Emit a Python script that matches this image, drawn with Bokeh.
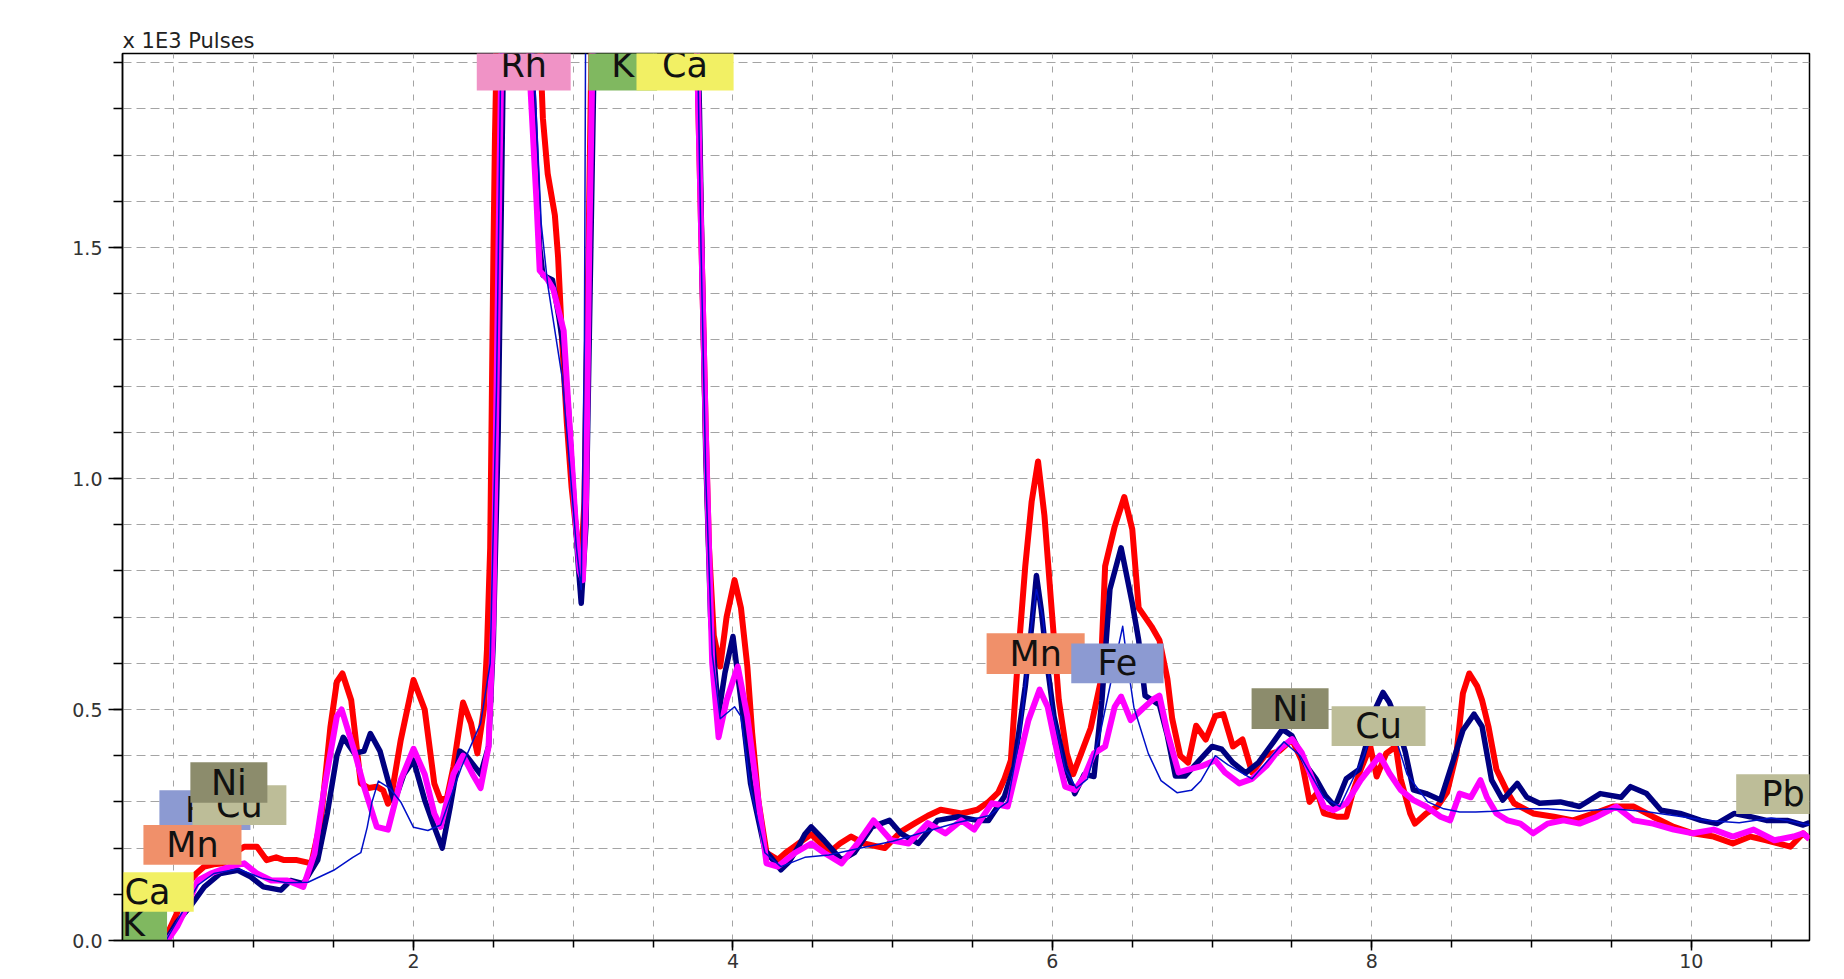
from bokeh.plotting import figure
from bokeh.models import FixedTicker, Range1d, ColumnDataSource, PrintfTickFormatter
from bokeh.core.properties import value
from bokeh.embed import file_html
from bokeh.resources import INLINE

# ---------------- data (energy in keV, intensity in 1E3 pulses) ----------------
red_x = [0.44, 0.52, 0.58, 0.64, 0.69, 0.75, 0.81, 0.88, 0.94, 1.02, 1.08, 1.14, 1.19, 1.27, 1.36,
         1.42, 1.48, 1.52, 1.555, 1.61, 1.67, 1.72, 1.77, 1.81, 1.84, 1.86, 1.92, 2.0, 2.07, 2.13,
         2.17, 2.21, 2.25, 2.31, 2.36, 2.40, 2.44, 2.46, 2.48, 2.49, 2.50, 2.51, 2.53, 2.65, 2.78,
         2.81, 2.84, 2.885, 2.905, 2.93, 2.96, 2.99, 3.03, 3.05, 3.07, 3.10, 3.13, 3.3, 3.6, 3.76,
         3.78, 3.81, 3.83, 3.85, 3.88, 3.92, 3.96, 4.01, 4.05, 4.09, 4.12, 4.16, 4.21, 4.28, 4.33,
         4.37, 4.43, 4.49, 4.55, 4.60, 4.67, 4.74, 4.82, 4.95, 5.05, 5.14, 5.22, 5.30, 5.43, 5.53,
         5.60, 5.66, 5.70, 5.74, 5.78, 5.83, 5.87, 5.91, 5.95, 5.99, 6.04, 6.09, 6.13, 6.18, 6.24,
         6.30, 6.33, 6.39, 6.45, 6.50, 6.54, 6.58, 6.62, 6.67, 6.72, 6.75, 6.80, 6.85, 6.90, 6.96,
         7.02, 7.07, 7.13, 7.19, 7.25, 7.33, 7.42, 7.50, 7.56, 7.61, 7.66, 7.70, 7.78, 7.84, 7.88,
         7.93, 7.99, 8.03, 8.09, 8.15, 8.18, 8.24, 8.27, 8.34, 8.41, 8.47, 8.53, 8.57, 8.61, 8.66,
         8.69, 8.73, 8.78, 8.85, 8.89, 9.01, 9.14, 9.26, 9.39, 9.51, 9.64, 9.76, 9.89, 10.01, 10.14,
         10.26, 10.37, 10.47, 10.62, 10.70, 10.74]
red_y = [0.0, 0.06, 0.12, 0.145, 0.16, 0.165, 0.167, 0.19, 0.203, 0.203, 0.174, 0.18, 0.174, 0.174, 0.167,
         0.26, 0.463, 0.56, 0.578, 0.52, 0.34, 0.33, 0.333, 0.325, 0.296, 0.31, 0.434, 0.564, 0.50, 0.34,
         0.303, 0.31, 0.376, 0.515, 0.47, 0.405, 0.50, 0.63, 0.85, 1.16, 1.48, 1.74, 2.1, 2.6, 2.05,
         1.78, 1.66, 1.57, 1.48, 1.30, 1.12, 0.98, 0.85, 0.82, 0.95, 1.6, 2.3, 3.5, 3.2, 2.2,
         1.85, 1.40, 1.10, 0.85, 0.66, 0.593, 0.70, 0.78, 0.72, 0.593, 0.45, 0.30, 0.19, 0.175, 0.19,
         0.20, 0.215, 0.23, 0.21, 0.19, 0.21, 0.225, 0.21, 0.20, 0.235, 0.254, 0.27, 0.283, 0.275, 0.283,
         0.30, 0.32, 0.35, 0.39, 0.59, 0.81, 0.95, 1.037, 0.92, 0.74, 0.52, 0.405, 0.36, 0.405, 0.46,
         0.557, 0.81, 0.896, 0.96, 0.89, 0.72, 0.70, 0.68, 0.65, 0.566, 0.48, 0.40, 0.385, 0.465, 0.435,
         0.486, 0.49, 0.42, 0.435, 0.364, 0.40, 0.41, 0.435, 0.39, 0.30, 0.32, 0.275, 0.268, 0.268, 0.32,
         0.37, 0.42, 0.355, 0.405, 0.42, 0.35, 0.275, 0.253, 0.275, 0.29, 0.32, 0.405, 0.535, 0.578, 0.55,
         0.52, 0.463, 0.37, 0.32, 0.297, 0.275, 0.268, 0.26, 0.275, 0.29, 0.29, 0.268, 0.246, 0.232, 0.225,
         0.21, 0.225, 0.217, 0.203, 0.232, 0.22]

navy_x = [0.45, 0.52, 0.60, 0.69, 0.79, 0.90, 0.98, 1.06, 1.17, 1.23, 1.31, 1.40, 1.46, 1.52, 1.56,
          1.63, 1.69, 1.73, 1.79, 1.84, 1.88, 1.94, 2.0, 2.07, 2.13, 2.18, 2.23, 2.29, 2.33, 2.42,
          2.47, 2.50, 2.53, 2.55, 2.57, 2.66, 2.73, 2.76, 2.79, 2.81, 2.87, 2.91, 2.94, 2.97, 3.00,
          3.03, 3.05, 3.08, 3.11, 3.14, 3.3, 3.6, 3.77, 3.79, 3.81, 3.83, 3.86, 3.91, 3.95, 4.0,
          4.05, 4.11, 4.20, 4.30, 4.35, 4.41, 4.45, 4.49, 4.57, 4.68, 4.76, 4.87, 4.98, 5.05, 5.16,
          5.28, 5.41, 5.53, 5.60, 5.70, 5.76, 5.83, 5.87, 5.90, 5.93, 5.97, 6.01, 6.08, 6.14, 6.20,
          6.26, 6.31, 6.36, 6.43, 6.50, 6.54, 6.58, 6.67, 6.72, 6.77, 6.83, 6.92, 7.00, 7.06, 7.13,
          7.21, 7.29, 7.38, 7.44, 7.50, 7.59, 7.65, 7.71, 7.77, 7.84, 7.92, 7.97, 8.02, 8.07, 8.11,
          8.15, 8.21, 8.26, 8.34, 8.43, 8.51, 8.57, 8.64, 8.69, 8.75, 8.82, 8.91, 8.97, 9.05, 9.18,
          9.30, 9.43, 9.56, 9.62, 9.72, 9.81, 9.93, 10.06, 10.16, 10.27, 10.37, 10.47, 10.60, 10.70, 10.74]
navy_y = [0.0, 0.04, 0.073, 0.116, 0.145, 0.152, 0.138, 0.116, 0.109, 0.13, 0.123, 0.174, 0.275, 0.40, 0.44,
          0.405, 0.41, 0.448, 0.41, 0.347, 0.30, 0.36, 0.39, 0.304, 0.246, 0.20, 0.29, 0.41, 0.40, 0.36,
          0.42, 0.65, 1.1, 1.6, 2.1, 2.6, 2.0, 1.75, 1.50, 1.44, 1.43, 1.35, 1.28, 1.15, 0.98,
          0.82, 0.73, 0.90, 1.5, 2.1, 3.5, 3.2, 2.1, 1.80, 1.40, 1.05, 0.70, 0.49, 0.58, 0.658,
          0.52, 0.34, 0.196, 0.153, 0.17, 0.203, 0.23, 0.246, 0.217, 0.174, 0.19, 0.246, 0.26, 0.232, 0.21,
          0.26, 0.268, 0.26, 0.26, 0.312, 0.376, 0.55, 0.68, 0.79, 0.716, 0.59, 0.485, 0.376, 0.318, 0.36,
          0.355, 0.52, 0.76, 0.85, 0.73, 0.65, 0.53, 0.51, 0.443, 0.356, 0.356, 0.39, 0.42, 0.414, 0.385,
          0.363, 0.385, 0.428, 0.457, 0.443, 0.378, 0.35, 0.313, 0.29, 0.35, 0.37, 0.43, 0.50, 0.537, 0.515,
          0.48, 0.407, 0.326, 0.318, 0.304, 0.39, 0.455, 0.49, 0.463, 0.347, 0.304, 0.34, 0.31, 0.297, 0.30,
          0.29, 0.318, 0.31, 0.333, 0.318, 0.282, 0.275, 0.26, 0.253, 0.275, 0.268, 0.26, 0.26, 0.25, 0.255]

magenta_x = [0.46, 0.52, 0.56, 0.65, 0.73, 0.85, 0.94, 1.02, 1.11, 1.21, 1.31, 1.38, 1.44, 1.52, 1.55,
             1.63, 1.69, 1.77, 1.84, 1.92, 2.0, 2.07, 2.13, 2.17, 2.25, 2.31, 2.37, 2.42, 2.47, 2.50,
             2.52, 2.54, 2.56, 2.65, 2.72, 2.73, 2.77, 2.79, 2.84, 2.875, 2.94, 2.98, 3.01, 3.04, 3.06,
             3.08, 3.10, 3.13, 3.3, 3.6, 3.76, 3.78, 3.81, 3.83, 3.85, 3.87, 3.91, 3.96, 4.03, 4.09,
             4.16, 4.21, 4.28, 4.39, 4.49, 4.57, 4.68, 4.78, 4.88, 4.99, 5.10, 5.22, 5.33, 5.43, 5.51,
             5.62, 5.72, 5.78, 5.85, 5.92, 5.97, 6.04, 6.08, 6.14, 6.20, 6.26, 6.33, 6.39, 6.43, 6.49,
             6.56, 6.63, 6.67, 6.72, 6.79, 6.85, 6.94, 7.02, 7.08, 7.17, 7.25, 7.34, 7.42, 7.50, 7.56,
             7.65, 7.70, 7.76, 7.84, 7.93, 8.05, 8.11, 8.18, 8.26, 8.34, 8.43, 8.49, 8.55, 8.62, 8.68,
             8.72, 8.78, 8.85, 8.93, 9.01, 9.10, 9.20, 9.30, 9.41, 9.53, 9.64, 9.76, 9.89, 10.01, 10.14,
             10.26, 10.39, 10.52, 10.64, 10.70, 10.74]
magenta_y = [0.0, 0.03, 0.058, 0.13, 0.145, 0.16, 0.167, 0.145, 0.13, 0.13, 0.116, 0.188, 0.326, 0.485, 0.50,
             0.41, 0.333, 0.246, 0.24, 0.347, 0.415, 0.36, 0.275, 0.246, 0.36, 0.40, 0.36, 0.33, 0.42, 0.70,
             1.2, 1.7, 2.1, 2.6, 2.0, 1.86, 1.60, 1.45, 1.43, 1.41, 1.32, 1.10, 0.93, 0.80, 0.78,
             0.95, 1.5, 2.1, 3.5, 3.2, 2.1, 1.85, 1.40, 1.10, 0.85, 0.60, 0.44, 0.52, 0.593, 0.485,
             0.30, 0.167, 0.16, 0.19, 0.21, 0.19, 0.167, 0.21, 0.26, 0.217, 0.21, 0.254, 0.232, 0.26, 0.24,
             0.297, 0.29, 0.376, 0.477, 0.543, 0.506, 0.39, 0.333, 0.326, 0.355, 0.405, 0.42, 0.506, 0.528, 0.477,
             0.50, 0.522, 0.53, 0.45, 0.364, 0.37, 0.378, 0.39, 0.364, 0.34, 0.35, 0.378, 0.414, 0.436, 0.407,
             0.33, 0.29, 0.282, 0.297, 0.347, 0.40, 0.362, 0.326, 0.304, 0.29, 0.268, 0.26, 0.318, 0.31, 0.347,
             0.31, 0.275, 0.26, 0.253, 0.232, 0.253, 0.26, 0.253, 0.268, 0.29, 0.26, 0.253, 0.24, 0.232, 0.24,
             0.225, 0.24, 0.217, 0.225, 0.232, 0.22]

fit_x = [0.45, 0.55, 0.65, 0.75, 0.90, 1.05, 1.20, 1.34, 1.50, 1.62, 1.67, 1.71, 1.74, 1.78, 1.85,
         1.92, 2.0, 2.09, 2.17, 2.30, 2.42, 2.48, 2.52, 2.55, 2.65, 2.74, 2.80, 2.84, 2.93, 2.98,
         3.02, 3.05, 3.07, 3.08, 3.3, 3.6, 3.77, 3.80, 3.83, 3.87, 3.92, 4.01, 4.05, 4.11, 4.20,
         4.30, 4.45, 4.60, 4.80, 5.00, 5.20, 5.40, 5.60, 5.72, 5.80, 5.86, 5.90, 5.94, 6.00, 6.08,
         6.15, 6.22, 6.30, 6.37, 6.44, 6.47, 6.51, 6.60, 6.68, 6.78, 6.87, 6.93, 7.02, 7.10, 7.25,
         7.45, 7.55, 7.70, 7.80, 7.95, 8.05, 8.12, 8.22, 8.35, 8.45, 8.55, 8.65, 8.76, 8.90, 9.10,
         9.30, 9.50, 9.70, 9.90, 10.10, 10.30, 10.50, 10.60, 10.74]
fit_y = [0.0, 0.06, 0.12, 0.145, 0.155, 0.135, 0.125, 0.126, 0.152, 0.18, 0.19, 0.245, 0.30, 0.345, 0.33,
         0.30, 0.245, 0.238, 0.25, 0.375, 0.47, 0.6, 1.2, 2.0, 2.6, 2.0, 1.55, 1.42, 1.22, 1.02,
         0.85, 0.76, 1.3, 2.2, 3.5, 3.2, 2.1, 1.5, 1.0, 0.62, 0.48, 0.506, 0.485, 0.33, 0.19,
         0.16, 0.18, 0.185, 0.20, 0.215, 0.235, 0.255, 0.27, 0.30, 0.45, 0.66, 0.76, 0.70, 0.50, 0.37,
         0.33, 0.35, 0.45, 0.566, 0.68, 0.60, 0.505, 0.405, 0.346, 0.32, 0.325, 0.346, 0.40, 0.38, 0.35,
         0.43, 0.40, 0.31, 0.29, 0.40, 0.50, 0.47, 0.36, 0.30, 0.285, 0.278, 0.278, 0.28, 0.285, 0.285,
         0.28, 0.285, 0.28, 0.27, 0.26, 0.255, 0.265, 0.26, 0.25]

# element line markers
label_names = ["Rh", "K", "Ca",
               "K", "Ca", "Fe", "Cu", "Ni", "Mn",
               "Mn", "Fe", "Ni", "Cu", "Pb"]
label_x = [2.69, 3.31, 3.70,
           0.247, 0.334, 0.694, 0.910, 0.844, 0.616,
           5.895, 6.407, 7.488, 8.042, 10.575]
label_y = [1.895, 1.895, 1.895,
           0.035, 0.105, 0.282, 0.293, 0.342, 0.207,
           0.621, 0.600, 0.502, 0.464, 0.317]
label_halfw = [0.294, 0.215, 0.304,
               0.21, 0.29, 0.285, 0.294, 0.241, 0.307,
               0.307, 0.289, 0.241, 0.294, 0.294]
label_halfh = [0.055, 0.055, 0.055,
               0.047, 0.043, 0.043, 0.043, 0.044, 0.043,
               0.044, 0.043, 0.044, 0.043, 0.043]
label_colors = ["#F093C6", "#80B860", "#F2F064",
                "#80B860", "#F2F064", "#8C9AD2", "#BDBD98", "#8C8C6C", "#F0906A",
                "#F0906A", "#8C9AD2", "#8C8C6C", "#BDBD98", "#BDBD98"]

x_major_ticks = [2, 4, 6, 8, 10]
x_minor_ticks = [0.5 * i for i in range(1, 22)]
y_major_ticks = [0.0, 0.5, 1.0, 1.5]
y_minor_ticks = [round(0.1 * i, 1) for i in range(0, 20)]

# ---------------- figure ----------------
p = figure(frame_width=1687, frame_height=887,
           x_range=Range1d(0.178, 10.74), y_range=Range1d(0, 1.92),
           output_backend="svg", toolbar_location=None,
           min_border_left=122, min_border_right=35, min_border_top=53, min_border_bottom=39,
           background_fill_color="white", border_fill_color="white")

p.title.text = "x 1E3 Pulses"
p.title.align = "left"
p.title.text_font = "DejaVu Sans"
p.title.text_font_size = "21px"
p.title.text_font_style = "normal"
p.title.text_color = "#222222"
p.title.standoff = 2

p.outline_line_color = "black"
p.outline_line_width = 1.5

p.xaxis.ticker = FixedTicker(ticks=x_major_ticks, minor_ticks=x_minor_ticks)
p.yaxis.ticker = FixedTicker(ticks=y_major_ticks, minor_ticks=y_minor_ticks)
p.yaxis.formatter = PrintfTickFormatter(format="%.1f")
for ax in (p.xaxis, p.yaxis):
    ax.axis_line_color = "black"
    ax.axis_line_width = 1.5
    ax.major_tick_line_color = "black"
    ax.minor_tick_line_color = "black"
    ax.major_tick_line_width = 1.5
    ax.minor_tick_line_width = 1.5
    ax.major_tick_in = 0
    ax.minor_tick_in = 0
    ax.major_label_text_font = "DejaVu Sans"
    ax.major_label_text_font_size = "19px"
    ax.major_label_text_color = "#333333"
p.xaxis.major_tick_out = 10
p.xaxis.minor_tick_out = 7
p.xaxis.major_label_standoff = 3
p.yaxis.major_tick_out = 14
p.yaxis.minor_tick_out = 9
p.yaxis.major_label_standoff = 6

p.xgrid.ticker = FixedTicker(ticks=x_minor_ticks)
p.ygrid.ticker = FixedTicker(ticks=[t for t in y_minor_ticks if t > 0])
p.xgrid.grid_line_color = "#A4A4A4"
p.ygrid.grid_line_color = "#A4A4A4"
p.xgrid.grid_line_dash = "6 8"
p.ygrid.grid_line_dash = "9 5"
p.xgrid.grid_line_width = 1
p.ygrid.grid_line_width = 1

# ---------------- spectra ----------------
p.line(red_x, red_y, line_color="#FF0000", line_width=6, line_join="round")
p.line(navy_x, navy_y, line_color="#000080", line_width=5.5, line_join="round")
p.line(magenta_x, magenta_y, line_color="#FF00FF", line_width=6, line_join="round")
p.line(fit_x, fit_y, line_color="#0010C8", line_width=1.5, line_join="round")

# ---------------- element labels ----------------
for i in range(len(label_names)):
    src = ColumnDataSource(dict(
        left=[label_x[i] - label_halfw[i]], right=[label_x[i] + label_halfw[i]],
        bottom=[label_y[i] - label_halfh[i]], top=[label_y[i] + label_halfh[i]],
        x=[label_x[i]], y=[label_y[i]], name=[label_names[i]], color=[label_colors[i]]))
    p.quad(left="left", right="right", bottom="bottom", top="top", source=src,
           fill_color="color", line_color=None)
    p.text(x="x", y="y", text="name", source=src, text_align="center", text_baseline="middle",
           text_font=value("DejaVu Sans"), text_font_size="35px", text_color="#111111")

open("out.html", "w").write(file_html(p, INLINE))
